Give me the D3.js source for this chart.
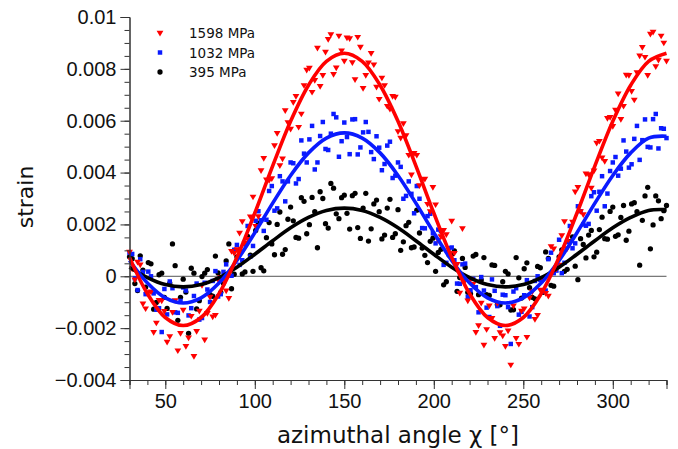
<!DOCTYPE html>
<html>
<head>
<meta charset="utf-8">
<script src="https://cdn.jsdelivr.net/npm/d3@7"></script>
<style>
  body { margin: 0; background: #fff; }
  svg { display: block; font-family: "DejaVu Sans", sans-serif; }
</style>
</head>
<body>
<svg id="chart" width="678" height="449"></svg>
<script>
// measured angles (deg), two interleaved runs
const angles = [
  30, 33, 36, 39, 42, 45, 48, 51, 54, 57,
  60, 63, 66, 69, 72, 75, 78, 81, 84, 87,
  90, 93, 96, 99, 102, 105, 108, 111, 114, 117,
  120, 123, 126, 129, 132, 135, 138, 141, 144, 147,
  150, 153, 156, 159, 162, 165, 168, 171, 174, 177,
  180, 183, 186, 189, 192, 195, 198, 201, 204, 207,
  210, 213, 216, 219, 222, 225, 228, 231, 234, 237,
  240, 243, 246, 249, 252, 255, 258, 261, 264, 267,
  270, 273, 276, 279, 282, 285, 288, 291, 294, 297,
  300, 303, 306, 309, 312, 315, 318, 321, 324, 327,
  330
];
const angles2 = [
  31.5, 34.5, 37.5, 40.5, 43.5, 46.5, 49.5, 52.5, 55.5, 58.5,
  61.5, 64.5, 67.5, 70.5, 73.5, 76.5, 79.5, 82.5, 85.5, 88.5,
  91.5, 94.5, 97.5, 100.5, 103.5, 106.5, 109.5, 112.5, 115.5, 118.5,
  121.5, 124.5, 127.5, 130.5, 133.5, 136.5, 139.5, 142.5, 145.5, 148.5,
  151.5, 154.5, 157.5, 160.5, 163.5, 166.5, 169.5, 172.5, 175.5, 178.5,
  181.5, 184.5, 187.5, 190.5, 193.5, 196.5, 199.5, 202.5, 205.5, 208.5,
  211.5, 214.5, 217.5, 220.5, 223.5, 226.5, 229.5, 232.5, 235.5, 238.5,
  241.5, 244.5, 247.5, 250.5, 253.5, 256.5, 259.5, 262.5, 265.5, 268.5,
  271.5, 274.5, 277.5, 280.5, 283.5, 286.5, 289.5, 292.5, 295.5, 298.5,
  301.5, 304.5, 307.5, 310.5, 313.5, 316.5, 319.5, 322.5, 325.5, 328.5
];

const strain1598 = [
  0.00093, -0.00014, 0.00044, -0.00125, -0.0006, -0.0018, -0.00095, -0.00254, -0.00139, -0.00287,
  -0.0013, -0.00237, -0.00309, -0.00134, -0.00245, -0.0008, -0.0015, -0.00005, -0.00056, 0.00096,
  0.00103, 0.00211, 0.00143, 0.00306, 0.0023, 0.00455, 0.0037, 0.00504, 0.00427, 0.00639,
  0.00568, 0.00694, 0.00626, 0.00795, 0.0071, 0.0088, 0.00775, 0.00914, 0.00779, 0.00927,
  0.0083, 0.00917, 0.00759, 0.00884, 0.00775, 0.0086, 0.0073, 0.00765, 0.00656, 0.00694,
  0.00558, 0.00589, 0.00467, 0.00474, 0.0035, 0.00375, 0.0025, 0.00276, 0.00153, 0.00161,
  0.00213, 0.00046, 0.00184, -0.00095, -0.0003, -0.0019, -0.00265, -0.00114, -0.00239, -0.00217,
  -0.0027, -0.00342, -0.00239, -0.00134, -0.00235, -0.0006, -0.0015, -0.00015, -0.00076, 0.00106,
  0.00043, 0.00211, 0.00133, 0.00326, 0.0025, 0.00395, 0.0034, 0.00514, 0.00457, 0.00609,
  0.00578, 0.00704, 0.00656, 0.00775, 0.0068, 0.0085, 0.00845, 0.00934, 0.00809, 0.00927,
  0.0083
];
const strain1598b = [
  0.00029, 0.00055, -0.00106, -0.00063, -0.00216, -0.00093, -0.00135, -0.00232, -0.00094, -0.0022,
  -0.0027, -0.00154, -0.00212, -0.00035, -0.00143, -0.00156, -0.00013, -0.00016, -0.00085, 0.00089,
  0.00167, 0.00127, 0.00229, 0.00193, 0.00408, 0.00372, 0.00377, 0.00551, 0.00453, 0.00593,
  0.00671, 0.00575, 0.00736, 0.00803, 0.00756, 0.00733, 0.00865, 0.00932, 0.00804, 0.0087,
  0.0092, 0.00824, 0.00922, 0.00725, 0.00823, 0.00816, 0.00683, 0.00736, 0.00645, 0.00691,
  0.00533, 0.00543, 0.00391, 0.00467, 0.00372, 0.00278, 0.00343, 0.00139, 0.00177, 0.00087,
  0.00089, -0.00065, -0.00016, -0.00013, -0.00216, -0.00103, -0.00205, -0.00162, -0.00104, -0.0023,
  -0.0021, -0.00114, -0.00262, -0.00125, -0.00083, -0.00166, -0.00053, -0.00066, 0.00115, 0.00029,
  0.00157, 0.00107, 0.00209, 0.00343, 0.00238, 0.00392, 0.00407, 0.00521, 0.00443, 0.00613,
  0.00641, 0.00605, 0.00776, 0.00713, 0.00786, 0.00883, 0.00775, 0.00942, 0.00834, 0.009
];

const strain1032 = [
  0.00091, -0.00008, 0.00066, -0.00069, 0, -0.00129, -0.00215, -0.00147, -0.00046, -0.00141,
  -0.00043, -0.00151, -0.00076, -0.00167, -0.00025, -0.00099, 0.0002, -0.00069, 0.00046, 0.00002,
  0.00121, 0.00062, 0.00194, 0.00117, 0.00251, 0.00175, 0.00329, 0.00253, 0.00386, 0.00289,
  0.00439, 0.00358, 0.00524, 0.00439, 0.0058, 0.00439, 0.00595, 0.00487, 0.00626, 0.00461,
  0.00593, 0.00471, 0.00606, 0.00497, 0.00595, 0.00479, 0.0054, 0.00409, 0.00504, 0.00379,
  0.00439, 0.00299, 0.00366, 0.00243, 0.00299, 0.00185, 0.00241, 0.00127, 0.00174, 0.00052,
  0.00111, -0.00028, 0.00046, -0.00079, -0.0001, -0.00139, -0.00055, -0.00157, -0.00056, -0.00191,
  -0.00073, -0.00261, -0.00046, -0.00137, -0.00015, -0.00119, 0, -0.00059, 0.00066, 0.00012,
  0.00141, 0.00052, 0.00194, 0.00127, 0.00251, 0.00195, 0.00309, 0.00253, 0.00386, 0.00319,
  0.00439, 0.00388, 0.00524, 0.00419, 0.0053, 0.00449, 0.00605, 0.00497, 0.00626, 0.00571,
  0.00533
];
const strain1032b = [
  0.00086, -0.00053, 0.00017, 0.00018, -0.00066, -0.00123, -0.00049, -0.0002, -0.00139, -0.00095,
  -0.00055, -0.00123, -0.00028, -0.00161, -0.00051, -0.00018, -0.00078, 0.00017, 0.00003, 0.00102,
  0.00044, 0.00124, 0.00076, 0.00214, 0.00216, 0.00218, 0.00348, 0.00262, 0.00366, 0.00366,
  0.00436, 0.00375, 0.00473, 0.00528, 0.00412, 0.00541, 0.00491, 0.0055, 0.00613, 0.00521,
  0.00537, 0.00605, 0.0047, 0.00555, 0.00557, 0.00452, 0.00496, 0.00433, 0.00519, 0.00388,
  0.00422, 0.0031, 0.00318, 0.00348, 0.00186, 0.00232, 0.00166, 0.0018, 0.00044, 0.00108,
  0.00062, -0.00029, 0.00049, -0.00054, -0.00042, -0.00003, -0.00121, -0.00012, -0.00115, -0.00071,
  -0.00119, -0.00059, -0.00148, -0.00073, -0.00155, -0.00018, -0.00014, -0.00055, 0.00091, 0.00022,
  0.00012, 0.00132, 0.00108, 0.0027, 0.002, 0.00202, 0.00324, 0.00326, 0.0027, 0.00406,
  0.0046, 0.00415, 0.00481, 0.00432, 0.0058, 0.00525, 0.00499, 0.00606, 0.00493, 0.00569
];

const strain395 = [
  0.00075, -0.00028, 0.00079, -0.00042, 0.00048, -0.00101, 0.00012, -0.00124, 0.00125, -0.0017,
  -0.00011, -0.0022, 0.00012, -0.00094, 0.00012, -0.00071, 0.00078, -0.00062, 0.00059, -0.00048,
  0.00075, 0.00009, 0.00154, 0.00019, 0.00205, 0.00021, 0.00207, 0.00083, 0.00248, 0.00103,
  0.00267, 0.0015, 0.00303, 0.00164, 0.00304, 0.0011, 0.003, 0.00186, 0.0034, 0.00222,
  0.00313, 0.00182, 0.0032, 0.00146, 0.0032, 0.00183, 0.00294, 0.00144, 0.00263, 0.0015,
  0.00257, 0.00133, 0.00208, 0.00113, 0.00167, 0.00081, 0.00135, 0.00019, 0.00104, -0.00021,
  0.00085, -0.00058, 0.00069, -0.00062, 0.00078, -0.00071, 0.00072, -0.00074, 0.00042, -0.0011,
  0.00019, -0.0013, 0.00072, -0.00084, 0.00052, -0.00081, 0.00038, -0.00062, 0.00069, -0.00038,
  0.00075, 0.00019, 0.00134, 0.00039, 0.00145, 0.00071, 0.00177, 0.00093, 0.00228, 0.00143,
  0.00267, 0.0016, 0.00273, 0.00174, 0.00284, 0.00043, 0.0031, 0.00106, 0.0031, 0.00222,
  0.00273
];
const strain395b = [
  0.00068, -0.00055, 0.00024, 0.00053, -0.00127, 0.00006, -0.00081, -0.00026, 0.00041, -0.00081,
  -0.00061, 0.00031, -0.00126, -0.00001, 0.00026, -0.00077, 0.00013, -0.00027, 0.00125, 0.00008,
  0.00102, 0.00017, 0.00082, 0.00177, 0.00033, 0.00149, 0.00125, 0.002, 0.00085, 0.0022,
  0.00214, 0.00147, 0.00289, 0.00199, 0.00249, 0.00326, 0.00203, 0.00358, 0.00241, 0.00303,
  0.00243, 0.00311, 0.00188, 0.00263, 0.00136, 0.00279, 0.00249, 0.00159, 0.00297, 0.00164,
  0.001, 0.00195, 0.0011, 0.00255, 0.00109, 0.00053, 0.00147, 0.00092, -0.00033, 0.00082,
  0.00098, -0.00005, 0.00034, -0.00067, 0.00084, -0.00014, -0.00071, 0.00044, -0.00109, -0.00021,
  0.00009, -0.00129, -0.00006, 0.00029, -0.00044, -0.00087, 0.00033, 0.00094, -0.00035, 0.00038,
  0.00102, 0.00027, 0.00152, -0.00013, 0.00123, 0.00159, 0.00075, 0.0018, 0.00145, 0.0025,
  0.00154, 0.00227, 0.00139, 0.00279, 0.00249, 0.00216, 0.00343, 0.00198, 0.00291, 0.00253
];

// fitted curves, read every 10 deg
const fitAngles = [30, 40, 50, 60, 70, 80, 90, 100, 110, 120, 130, 140, 150, 160, 170, 180,
  190, 200, 210, 220, 230, 240, 250, 260, 270, 280, 290, 300, 310, 320, 330];
const fit1598 = [0.00073, -0.00067, -0.00159, -0.0019, -0.00159, -0.00067, 0.00073, 0.00244,
  0.00426, 0.00598, 0.00737, 0.00829, 0.0086, 0.00829, 0.00737, 0.00598, 0.00426, 0.00244,
  0.00073, -0.00067, -0.00159, -0.0019, -0.00159, -0.00067, 0.00073, 0.00244, 0.00426,
  0.00598, 0.00737, 0.00829, 0.0086];
const fit1032 = [0.00061, -0.00026, -0.00083, -0.00103, -0.00083, -0.00026, 0.00061, 0.00168,
  0.00282, 0.00389, 0.00476, 0.00533, 0.00553, 0.00533, 0.00476, 0.00389, 0.00282, 0.00168,
  0.00061, -0.00026, -0.00083, -0.00103, -0.00083, -0.00026, 0.00061, 0.00168, 0.00282,
  0.00389, 0.00476, 0.00533, 0.0054];
const fit395 = [0.00035, -0.00005, -0.00032, -0.00041, -0.00032, -0.00005, 0.00035, 0.00085,
  0.00137, 0.00187, 0.00227, 0.00254, 0.00263, 0.00254, 0.00227, 0.00187, 0.00137, 0.00085,
  0.00035, -0.00005, -0.00032, -0.00041, -0.00032, -0.00005, 0.00035, 0.00085, 0.00137,
  0.00187, 0.00227, 0.00254, 0.00257];

const seriesNames = ["1598 MPa", "1032 MPa", "395 MPa"];
const xTicks = [50, 100, 150, 200, 250, 300];
const yTicks = [-0.004, -0.002, 0, 0.002, 0.004, 0.006, 0.008, 0.01];
const yTickLabels = ["\u22120.004", "\u22120.002", "0", "0.002", "0.004", "0.006", "0.008", "0.01"];

const svg = d3.select("#chart");

const x = d3.scaleLinear().domain([30, 330]).range([129.5, 666.5]);
const y = d3.scaleLinear().domain([-0.004, 0.01]).range([380, 17]);

const series = [
  { name: seriesNames[0], color: "#ff0000", pts: strain1598, pts2: strain1598b, fit: fit1598, shape: "tri" },
  { name: seriesNames[1], color: "#0a1aff", pts: strain1032, pts2: strain1032b, fit: fit1032, shape: "sq" },
  { name: seriesNames[2], color: "#000000", pts: strain395, pts2: strain395b, fit: fit395, shape: "dot" }
];

const symbolFor = s => {
  if (s === "tri") return "M-3.4,-2.3L3.4,-2.3L0,3.4Z";
  if (s === "sq") return d3.symbol(d3.symbolSquare, 20)();
  return d3.symbol(d3.symbolCircle, 22)();
};

// zero line
svg.append("line")
  .attr("x1", x(30)).attr("x2", x(330))
  .attr("y1", y(0)).attr("y2", y(0))
  .attr("stroke", "#555").attr("stroke-width", 1);

// points (black under blue under red)
const plot = svg.append("g");
series.slice().reverse().forEach(s => {
  const pts = angles.map((a, i) => [a, s.pts[i]])
    .concat(angles2.map((a, i) => [a, s.pts2[i]]));
  plot.append("g").selectAll("path")
    .data(pts)
    .join("path")
    .attr("transform", d => `translate(${x(d[0])},${y(d[1])})`)
    .attr("d", symbolFor(s.shape))
    .attr("fill", s.color);
});

const line = d3.line()
  .x((d, i) => x(fitAngles[i]))
  .y(d => y(d))
  .curve(d3.curveCatmullRom);

series.slice().reverse().forEach(s => {
  plot.append("path")
    .datum(s.fit)
    .attr("d", line)
    .attr("fill", "none")
    .attr("stroke", s.color)
    .attr("stroke-width", 3.6);
});

// axes
const axisColor = "#333";
const gx = svg.append("g").attr("transform", `translate(0,${y(-0.004)})`);
gx.call(d3.axisBottom(x).tickValues(d3.range(30, 331, 10)).tickSize(5).tickFormat(""));
gx.append("g").call(d3.axisBottom(x).tickValues(xTicks).tickSize(9).tickPadding(5));
gx.selectAll("path, line").attr("stroke", axisColor);
gx.selectAll("text").attr("fill", "#111").style("font-size", "20px");

const gy = svg.append("g").attr("transform", `translate(${x(30)},0)`);
gy.call(d3.axisLeft(y).tickValues(d3.range(-0.004, 0.01001, 0.0005)).tickSize(5).tickFormat(""));
gy.append("g").call(d3.axisLeft(y).tickValues(yTicks).tickSize(9).tickPadding(4)
  .tickFormat((d, i) => yTickLabels[i]));
gy.selectAll("path, line").attr("stroke", axisColor);
gy.selectAll("text").attr("fill", "#111").style("font-size", "20px");

// axis titles
svg.append("text")
  .attr("x", 398).attr("y", 443)
  .attr("text-anchor", "middle")
  .style("font-size", "23px").attr("fill", "#111")
  .text("azimuthal angle \u03C7 [\u00B0]");

svg.append("text")
  .attr("transform", "translate(33,197) rotate(-90)")
  .attr("text-anchor", "middle")
  .style("font-size", "22px").attr("fill", "#111")
  .text("strain");

// legend
const legend = svg.append("g");
series.forEach((s, i) => {
  const row = legend.append("g").attr("transform", `translate(160,${33 + i * 19.5})`);
  row.append("path").attr("d", symbolFor(s.shape)).attr("fill", s.color);
  row.append("text")
    .attr("x", 29).attr("y", 5)
    .style("font-size", "13.5px").attr("fill", "#111")
    .text(s.name);
});
</script>
</body>
</html>
